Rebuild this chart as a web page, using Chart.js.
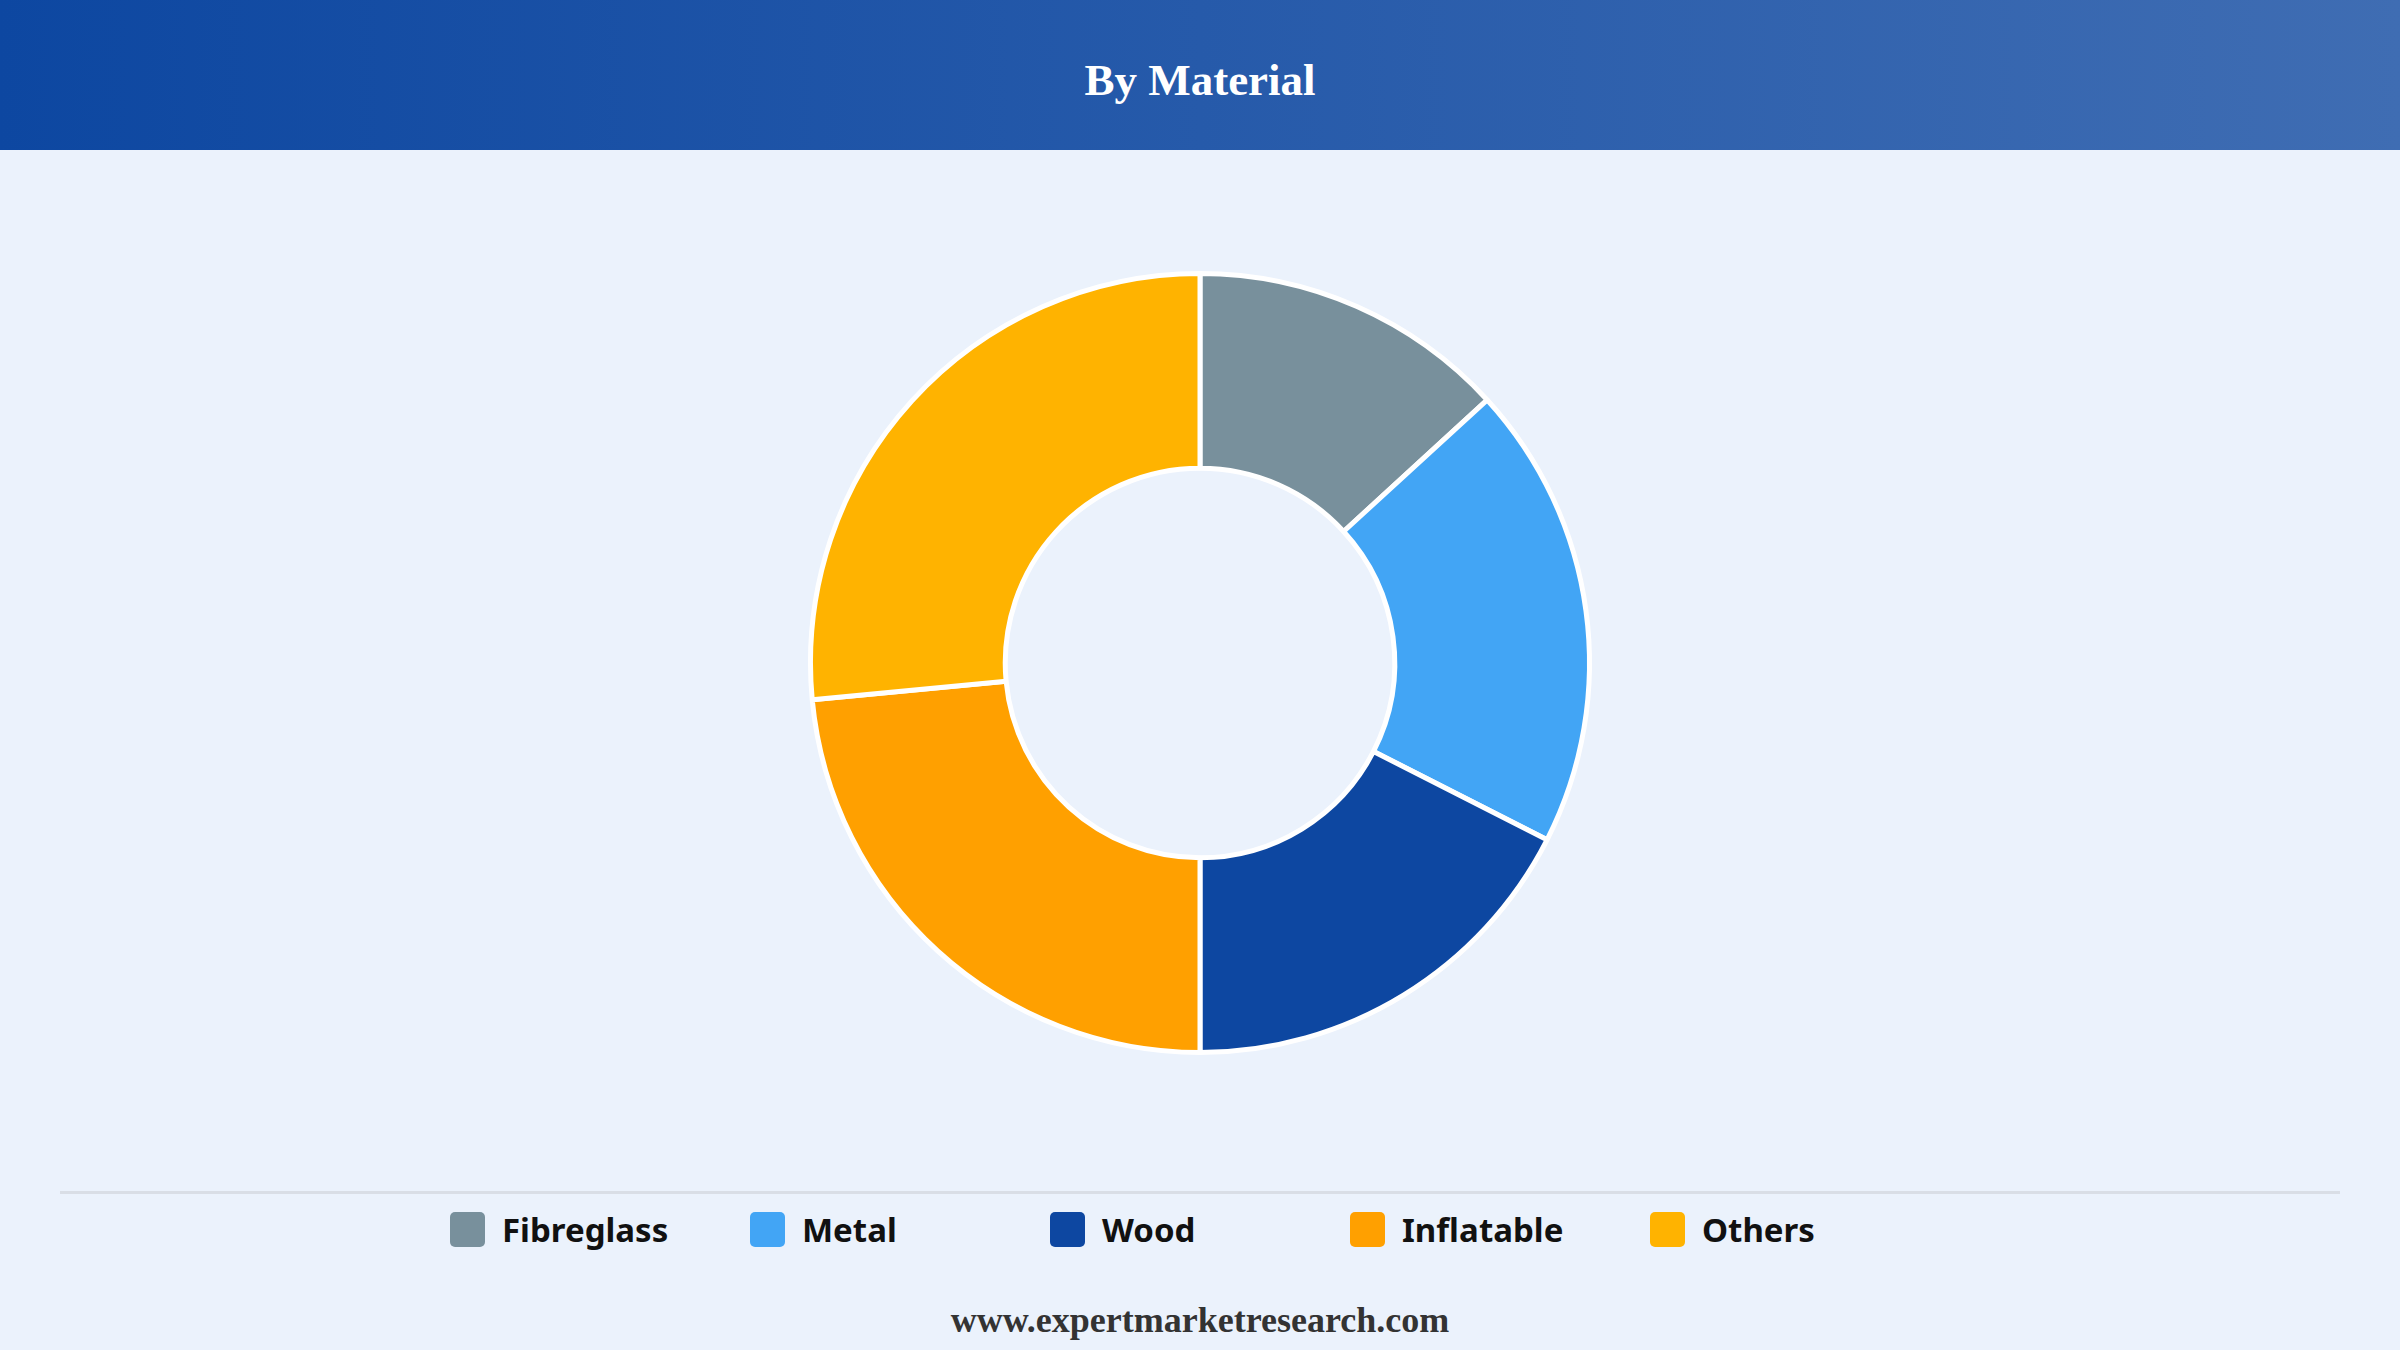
<!DOCTYPE html>
<html>
<head>
<meta charset="utf-8">
<script src="https://cdn.jsdelivr.net/npm/chart.js@4"></script>
<style>
  html, body { margin: 0; padding: 0; }
  body { width: 2400px; height: 1350px; background: #ebf2fc; position: relative; overflow: hidden; }
  #cabecalho {
    position: absolute; left: 0; top: 0; width: 2400px; height: 150px;
    background: linear-gradient(to right, #0d47a1, #3f6db3);
    color: #fff; font: bold 45px "Liberation Serif", "DejaVu Serif", serif;
    display: flex; align-items: center; justify-content: center;
    box-sizing: border-box; padding-top: 10px;
  }
  #areaGrafico { position: absolute; left: 0; top: 271px; width: 2400px; height: 784px; }
  #linha { position: absolute; left: 60px; top: 1191px; width: 2280px; height: 3px; background: #d9dee6; }
  #legenda {
    position: absolute; left: 450px; top: 1206px; height: 46px;
    display: flex; align-items: center;
    font: bold 33px "Noto Sans", "Open Sans", sans-serif; color: #111;
  }
  .item { width: 300px; display: flex; align-items: center; }
  .caixa { width: 35px; height: 35px; border-radius: 5px; margin-right: 17px; }
  #rodape {
    position: absolute; left: 0; top: 1299px; width: 2400px; text-align: center;
    font: bold 36px "Liberation Serif", "DejaVu Serif", serif; color: #333;
  }
</style>
</head>
<body>
<div id="cabecalho">By Material</div>
<div id="areaGrafico"><canvas id="graficoMaterial"></canvas></div>
<div id="linha"></div>
<div id="legenda"></div>
<div id="rodape">www.expertmarketresearch.com</div>

<script>
// Dados (participação %)
const materiais = ['Fibreglass', 'Metal', 'Wood', 'Inflatable', 'Others'];
const participacao = [13.2, 19.3, 17.5, 23.5, 26.5];
const cores = ['#78909c', '#42a5f5', '#0d47a1', '#ffa000', '#ffb300'];

new Chart(document.querySelector('#graficoMaterial'), {
  type: 'doughnut',
  data: {
    labels: materiais,
    datasets: [{
      data: participacao,
      backgroundColor: cores,
      borderColor: '#ffffff',
      borderWidth: 5
    }]
  },
  options: {
    responsive: true,
    maintainAspectRatio: false,
    animation: false,
    cutout: '50%',
    plugins: {
      legend: { display: false },
      tooltip: { enabled: false }
    }
  }
});

// Legenda montada a partir dos mesmos arrays
const legenda = document.querySelector('#legenda');
materiais.forEach((nome, i) => {
  const item = document.createElement('div');
  item.className = 'item';
  item.innerHTML = `<span class="caixa" style="background:${cores[i]}"></span><span>${nome}</span>`;
  legenda.appendChild(item);
});
</script>
</body>
</html>
